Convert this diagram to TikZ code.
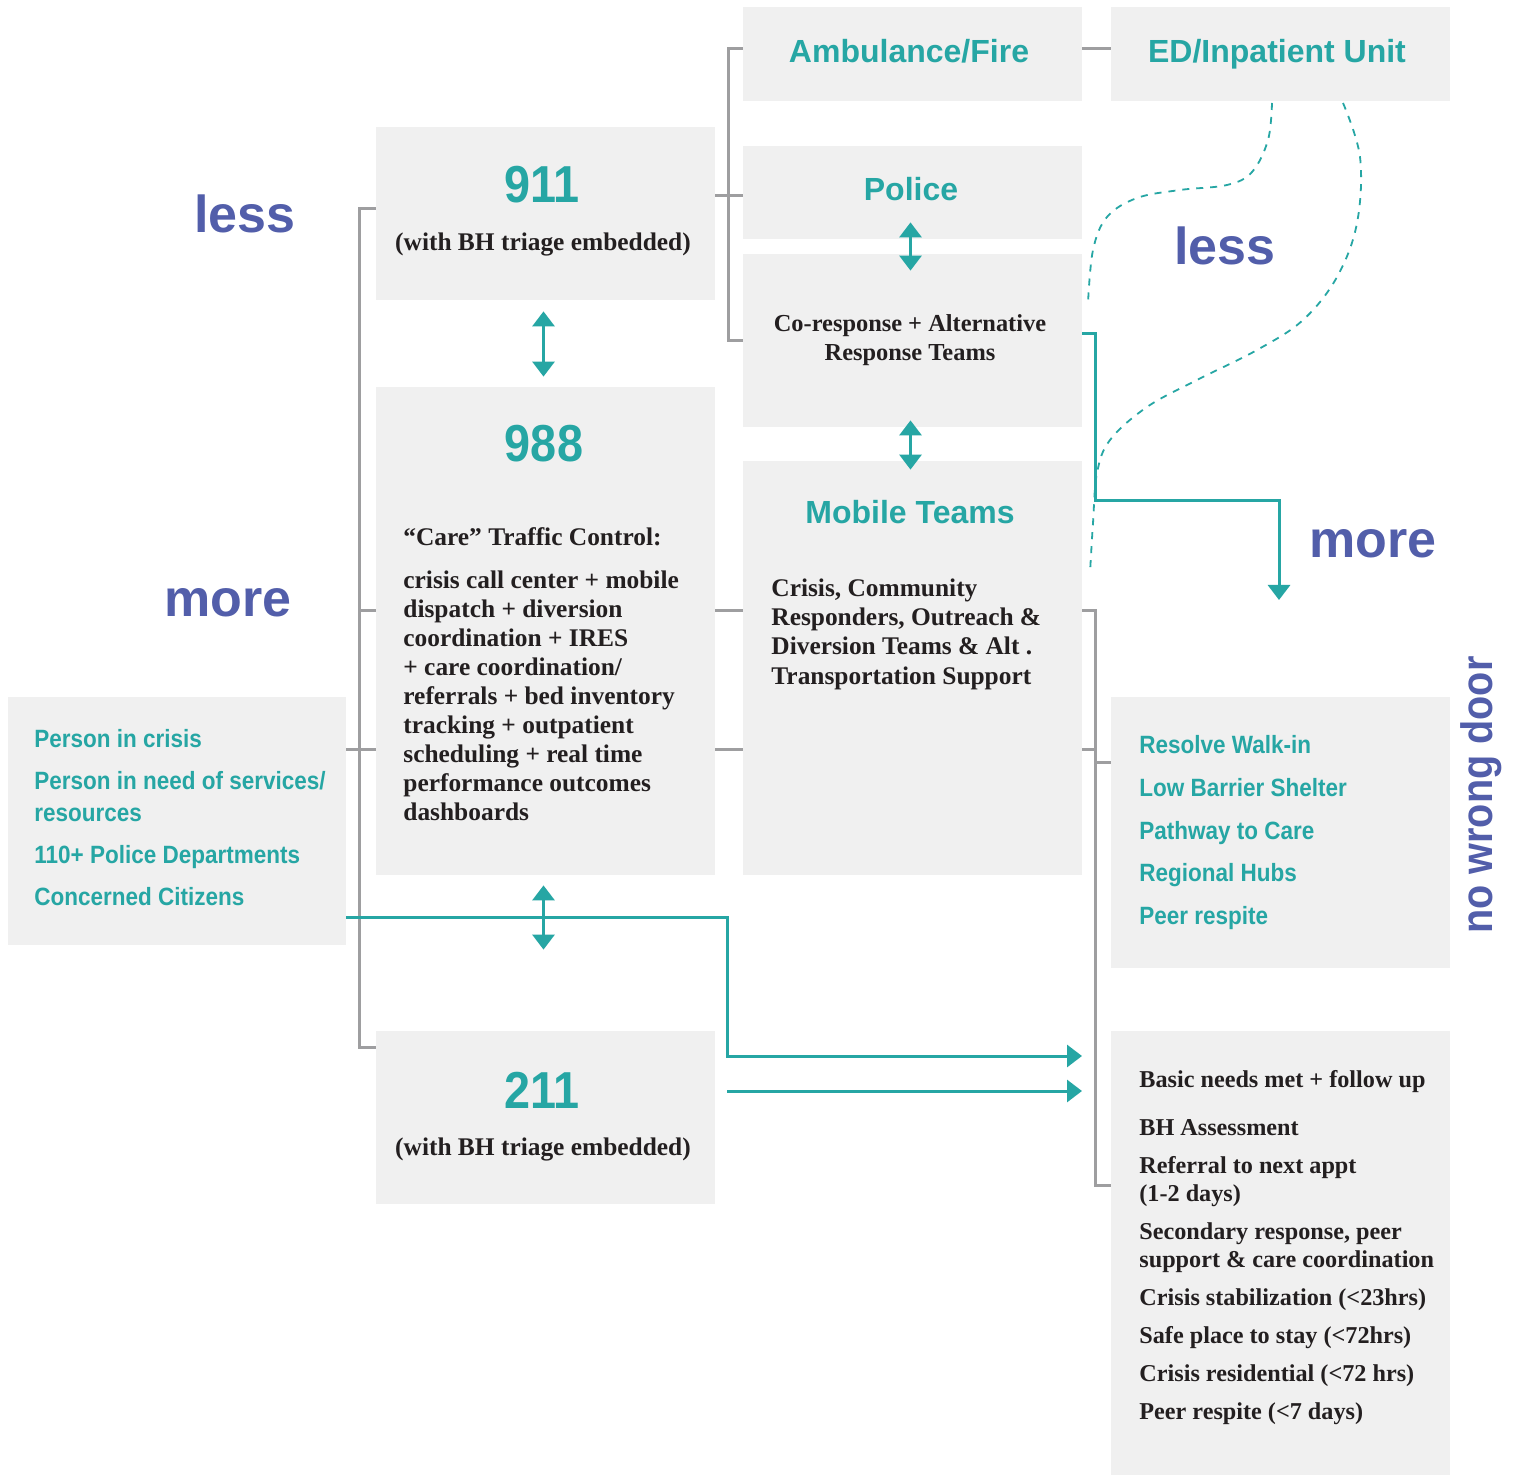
\documentclass[tikz,border=0pt]{standalone}
\usepackage{fontspec}
\setmainfont{Liberation Serif}
\newfontfamily\headfont{Liberation Sans}
\newfontfamily\narrowfont[FakeStretch=0.9]{Liberation Sans}
\usetikzlibrary{arrows.meta,calc,fit}

\definecolor{tealc}{RGB}{38,166,164}
\definecolor{levelc}{RGB}{82,94,170}
\definecolor{boxc}{RGB}{240,240,240}
\definecolor{linkc}{RGB}{158,158,160}
\definecolor{inkc}{RGB}{35,31,32}

\tikzset{
  box/.style={fill=boxc, inner sep=0pt},
  link/.style={draw=linkc, line width=1.5pt},
  flow/.style={draw=tealc, line width=1.5pt},
  wave/.style={draw=tealc, line width=0.9pt, dash pattern=on 3.5pt off 3.5pt},
  tipend/.style={-{Triangle[width=11pt,length=7.5pt]}},
  tipboth/.style={{Triangle[width=11pt,length=7.5pt]}-{Triangle[width=11pt,length=7.5pt]}},
  head/.style={text=tealc, anchor=base, font=\headfont\bfseries\fontsize{16}{19}\selectfont},
  num/.style={text=tealc, anchor=base, font=\narrowfont\bfseries\fontsize{26}{30}\selectfont},
  level/.style={text=levelc, inner sep=0pt, anchor=base west, font=\headfont\bfseries\fontsize{26}{30}\selectfont},
  note/.style={text=inkc, anchor=base, font=\bfseries\fontsize{12.7}{14.5}\selectfont},
  body/.style={text=inkc, inner sep=0pt, align=left, anchor=north west, font=\bfseries\fontsize{12.7}{14.5}\selectfont},
  items/.style={text=tealc, inner sep=0pt, align=left, anchor=north west, font=\narrowfont\bfseries\fontsize{12.5}{16}\selectfont}
}

\begin{document}
\begin{tikzpicture}[x=0.5pt, y=-0.5pt]
    \fill[white] (0,0) rectangle (1514,1475);
    \useasboundingbox (0,0) rectangle (1514,1475);

    % boxes
    \node[box, fit={(376,127) (715,300)}] (n911) {};
    \node[box, fit={(376,387) (715,875)}] (n988) {};
    \node[box, fit={(376,1031) (715,1204)}] (n211) {};
    \node[box, fit={(743,7) (1082,101)}] (namb) {};
    \node[box, fit={(1111,7) (1450,101)}] (ned) {};
    \node[box, fit={(743,146) (1082,239)}] (npol) {};
    \node[box, fit={(743,254) (1082,427)}] (ncor) {};
    \node[box, fit={(743,461) (1082,875)}] (nmob) {};
    \node[box, fit={(8,697) (346,945)}] (nsrc) {};
    \node[box, fit={(1111,697) (1450,968)}] (nres) {};
    \node[box, fit={(1111,1031) (1450,1475)}] (nout) {};

    \coordinate (rowA) at (0,611);
    \coordinate (rowB) at (0,749);
    \coordinate (moreTip) at (1279,600);
    \coordinate (inA) at (1082,1056);
    \coordinate (inB) at (1082,1091);

    % grey brackets
    \draw[link] ($(n911.west)+(0,-5)$) -- ++(-16,0) |- ($(n211.north west)+(0,17)$);
    \draw[link] (n988.west |- rowA) -- ++(-16,0);
    \draw[link] (nsrc.east |- rowB) -- (n988.west |- rowB);
    \draw[link] (n988.east |- rowA) -- (nmob.west |- rowA);
    \draw[link] (n988.east |- rowB) -- (nmob.west |- rowB);
    \draw[link] (nmob.east |- rowA) -- ++(13,0) |- (nout.west |- 0,1185);
    \draw[link] (nmob.east |- rowB) -- ++(13,0);
    \draw[link] (nres.west |- 0,762) -- ++(-16,0);
    \draw[link] (namb.west |- 0,49) -- ++(-14,0) |- (ncor.west);
    \draw[link] (n911.east |- 0,196) -- (npol.west |- 0,196);
    \draw[link] (namb.east |- 0,49) -- (ned.west |- 0,49);

    % teal flows
    \draw[flow, tipboth] ($(n911.south)+(-2,11)$) -- ($(n988.north)+(-2,-10)$);
    \draw[flow, tipboth] ($(npol.south)+(-2,-17)$) -- ($(ncor.north)+(-2,17)$);
    \draw[flow, tipboth] ($(ncor.south)+(-2,-7)$) -- ($(nmob.north)+(-2,9)$);
    \draw[flow, tipboth] ($(n988.south)+(-2,10)$) -- ($(n211.north)+(-2,-81)$);
    \draw[flow, tipend] ($(ncor.east)+(0,-7)$) -- ++(13,0) |- (moreTip |- 0,501) -- (moreTip);
    \draw[flow, tipend] (nsrc.east |- 0,917) -| (727,1056) -- (inA);
    \draw[flow, tipend] ($(n211.east)+(12,-26.5)$) -- (inB);

    % dashed waves
    \draw[wave] plot[smooth, tension=0.6] coordinates {(1272,103) (1268,140) (1252,172) (1227,185) (1180,190) (1137,198) (1107,217) (1093,250) (1088,303)};
    \draw[wave] plot[smooth, tension=0.6] coordinates {(1343,103) (1360,157) (1357,223) (1337,277) (1303,320) (1257,350) (1197,380) (1147,407) (1110,440) (1097,473) (1093,523) (1090,573)};

    % texts
    \node[level] (lessL) at (194,233) {less};
    \node[level] (moreL) at (164,617) {more};
    \node[level] (lessR) at (1174,265) {less};
    \node[level] (moreR) at (1309,558) {more};
    \node[text=levelc, rotate=90, font=\narrowfont\bfseries\fontsize{22}{26}\selectfont] (door) at (1481,795) {no wrong door};

    \node[head] (tamb) at (909,63) {Ambulance/Fire};
    \node[head] (ted) at (1277,63) {ED/Inpatient Unit};
    \node[head] (tpol) at (911,201) {Police};
    \node[head] (tmob) at (910,524) {Mobile Teams};
    \node[num] (t911) at (542,203) {911};
    \node[num] (t988) at (544,462) {988};
    \node[num] (t211) at (542,1108) {211};
    \node[note] (b911) at (543,251) {(with BH triage embedded)};
    \node[note] (b211) at (543,1155) {(with BH triage embedded)};
    \node[body, align=center, anchor=north, font=\bfseries\fontsize{12.2}{14.5}\selectfont] (tcor) at (910,314) {Co-response + Alternative\\Response Teams};

    \node[body] (c988) at (403,527) {“Care” Traffic Control:\\[7pt]
      crisis call center + mobile\\ dispatch + diversion\\ coordination + IRES\\
      + care coordination/\\ referrals + bed inventory\\ tracking + outpatient\\
      scheduling + real time\\ performance outcomes\\ dashboards};
    \node[body, font=\bfseries\fontsize{12.7}{14.7}\selectfont] (cmob) at (771,578) {Crisis, Community\\ Responders, Outreach \&\\
      Diversion Teams \& Alt .\\ Transportation Support};
    \node[items] (csrc) at (34,729) {Person in crisis\\[5pt] Person in need of services/\\
      resources\\[5pt] 110+ Police Departments\\[5pt] Concerned Citizens};
    \node[items] (cres) at (1139,735) {Resolve Walk-in\\[5.4pt] Low Barrier Shelter\\[5.4pt]
      Pathway to Care\\[5.4pt] Regional Hubs\\[5.4pt] Peer respite};
    \node[body, font=\bfseries\fontsize{12.1}{14}\selectfont] (cout) at (1139,1070) {Basic needs met + follow up\\[10pt]
      BH Assessment\\[5pt] Referral to next appt\\ (1-2 days)\\[5pt]
      Secondary response, peer\\ support \& care coordination\\[5pt]
      Crisis stabilization (<23hrs)\\[5pt] Safe place to stay (<72hrs)\\[5pt]
      Crisis residential (<72 hrs)\\[5pt] Peer respite (<7 days)};
\end{tikzpicture}
\end{document}
